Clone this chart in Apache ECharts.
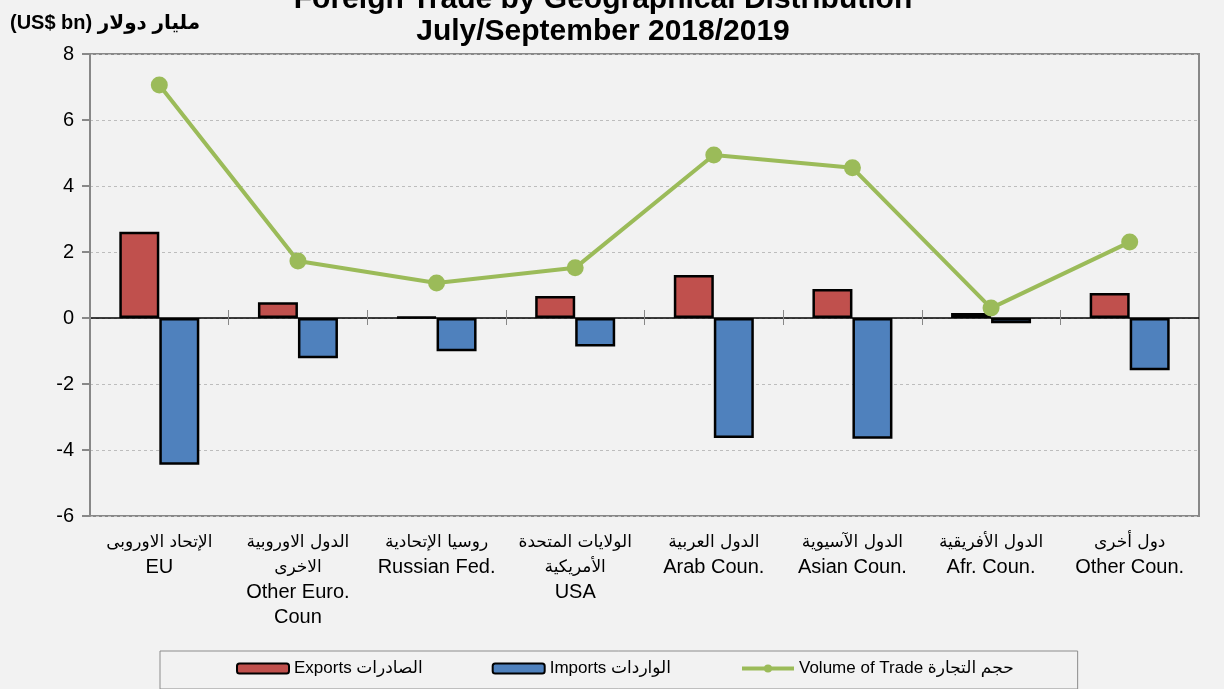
<!DOCTYPE html>
<html>
<head>
<meta charset="utf-8">
<script src="https://cdn.jsdelivr.net/npm/echarts@6/dist/echarts.min.js"></script>
<style>
  html, body { margin: 0; padding: 0; background: #f2f2f2; }
  #chart { width: 1224px; height: 689px; }
</style>
</head>
<body>
<div id="chart"></div>
<script>
// categories (Arabic line(s) + English line(s))
const categoriesAr = ['الإتحاد الاوروبى', 'الدول الاوروبية\nالاخرى', 'روسيا الإتحادية', 'الولايات المتحدة\nالأمريكية', 'الدول العربية', 'الدول الآسيوية', 'الدول الأفريقية', 'دول أخرى'];
const categoriesEn = ['EU', 'Other Euro.\nCoun', 'Russian Fed.', 'USA', 'Arab Coun.', 'Asian Coun.', 'Afr. Coun.', 'Other Coun.'];

// values (US$ bn)
const exportsData = [2.61, 0.48, 0.03, 0.67, 1.30, 0.88, 0.15, 0.76];
const importsData = [-4.45, -1.22, -1.01, -0.86, -3.64, -3.66, -0.16, -1.58];
const volumeData = [7.06, 1.73, 1.06, 1.52, 4.94, 4.55, 0.30, 2.30];

const seriesNames = ['Exports الصادرات', 'Imports الواردات', 'Volume of Trade حجم التجارة'];

const chart = echarts.init(document.getElementById('chart'));

const catLabel = (value, idx) => {
    const ar = categoriesAr[idx].split('\n').map(s => '{ar|' + s + '}');
    const en = categoriesEn[idx].split('\n').map(s => '{en|' + s + '}');
    return ar.concat(en).join('\n');
};

const option = {
    backgroundColor: '#f2f2f2',
    textStyle: { fontFamily: 'Liberation Sans, Arial, DejaVu Sans, sans-serif' },
    title: [
        {
            text: 'Foreign Trade by Geographical Distribution\nJuly/September 2018/2019',
            left: 598,
            textAlign: 'center',
            top: -21,
            textStyle: { fontSize: 30, fontWeight: 'bold', color: '#000', lineHeight: 32 }
        },
        {
            text: '(US$ bn) مليار دولار',
            left: 5,
            top: 8,
            textStyle: { fontSize: 20, fontWeight: 'bold', color: '#000' }
        }
    ],
    legend: {
        data: [
            { name: seriesNames[0] },
            { name: seriesNames[1] },
            { name: seriesNames[2], lineStyle: { width: 4, color: '#9bbb59' } }
        ],
        left: 160,
        top: 651,
        padding: [9, 64, 12, 76],
        itemGap: 69,
        itemWidth: 52,
        itemHeight: 10,
        borderColor: '#8c8c8c',
        borderWidth: 1,
        textStyle: { fontSize: 17, color: '#000' }
    },
    grid: {
        left: 90,
        right: 25,
        top: 54,
        bottom: 173,
        containLabel: false,
        outerBoundsMode: 'none',
        show: true,
        borderColor: '#888',
        borderWidth: 2,
        backgroundColor: '#f2f2f2'
    },
    xAxis: [
        {
            // labels along the bottom border
            type: 'category',
            data: categoriesEn,
            position: 'bottom',
            axisLine: { show: false, onZero: false },
            axisTick: { show: false },
            axisLabel: {
                margin: 14,
                interval: 0,
                formatter: catLabel,
                rich: {
                    ar: { fontSize: 17, lineHeight: 25, color: '#000', fontFamily: 'DejaVu Sans, sans-serif' },
                    en: { fontSize: 20, lineHeight: 25, color: '#000' }
                }
            }
        },
        {
            // zero line, ticks pointing down
            type: 'category',
            data: categoriesEn,
            position: 'top',
            axisLine: { show: true, onZero: true, onZeroAxisIndex: 0, lineStyle: { color: '#000', width: 1.5 } },
            axisTick: { show: true, inside: true, length: 7, lineStyle: { color: '#888' } },
            axisLabel: { show: false }
        },
        {
            // ticks pointing up
            type: 'category',
            data: categoriesEn,
            position: 'top',
            axisLine: { show: false, onZero: true, onZeroAxisIndex: 1 },
            axisTick: { show: true, length: 8, lineStyle: { color: '#888' } },
            axisLabel: { show: false }
        }
    ],
    yAxis: [
        {
            type: 'value',
            min: -6,
            max: 8,
            interval: 2,
            axisLine: { show: true, lineStyle: { color: '#888', width: 2 } },
            axisTick: { show: true, length: 8, lineStyle: { color: '#888', width: 2 } },
            axisLabel: { fontSize: 20, color: '#000', margin: 16 },
            splitLine: { show: true, lineStyle: { color: '#bdbdbd', type: [3, 3], width: 1 } }
        },
        {
            type: 'value',
            min: -6,
            max: 8,
            interval: 2,
            show: false
        }
    ],
    series: [
        {
            name: seriesNames[0],
            type: 'bar',
            data: exportsData,
            barWidth: 40,
            barGap: '0%',
            itemStyle: { color: '#c0504d', borderColor: '#000', borderWidth: 2.5 }
        },
        {
            name: seriesNames[1],
            type: 'bar',
            data: importsData,
            barWidth: 40,
            itemStyle: { color: '#4f81bd', borderColor: '#000', borderWidth: 2.5 }
        },
        {
            name: seriesNames[2],
            type: 'line',
            data: volumeData,
            symbol: 'circle',
            symbolSize: 17,
            z: 5,
            lineStyle: { color: '#9bbb59', width: 4 },
            itemStyle: { color: '#9bbb59' }
        }
    ],
    animation: false
};

chart.setOption(option);
</script>
</body>
</html>
